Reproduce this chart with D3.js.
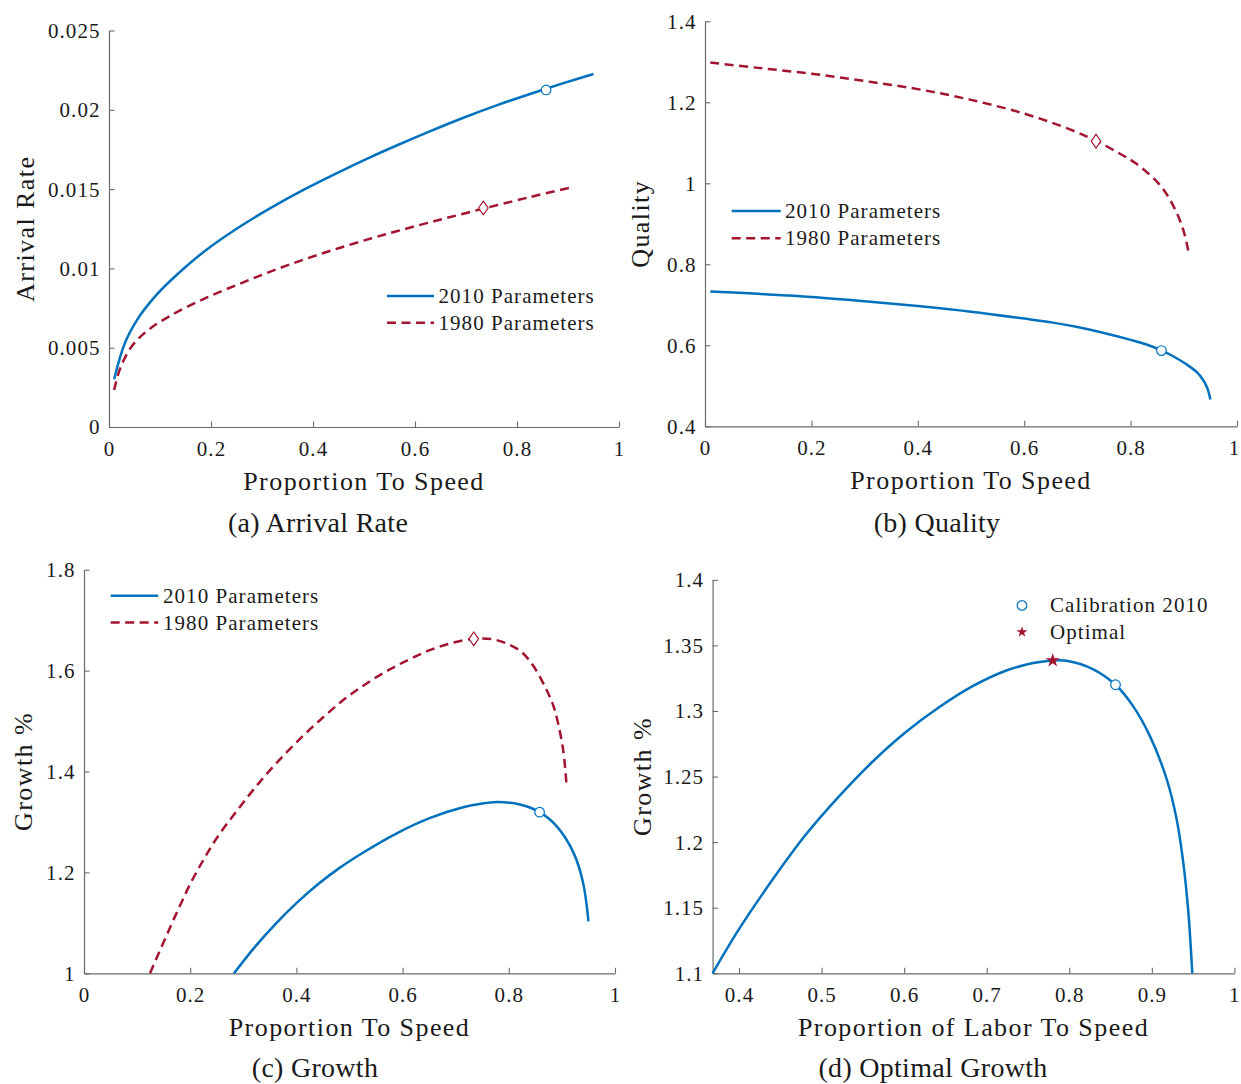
<!DOCTYPE html>
<html>
<head>
<meta charset="utf-8">
<script src="https://cdn.jsdelivr.net/npm/d3@7"></script>
<style>
  body { margin: 0; background: #ffffff; }
  svg text { font-family: "Liberation Serif", "Times New Roman", serif; fill: #1a1a1a; }
</style>
</head>
<body>
<svg id="chart" width="1241" height="1084"></svg>
<script>
// ---------------- DATA ----------------
const seriesNames = ["2010 Parameters", "1980 Parameters"];
const markerNames = ["Calibration 2010", "Optimal"];

// (a) Arrival Rate vs proportion to speed
const arrival2010 = [[0.01,0.00301],[0.031,0.00528],[0.057,0.00685],[0.09,0.00822],[0.123,0.0093],
  [0.188,0.0111],[0.254,0.01258],[0.319,0.01385],[0.384,0.015],[0.45,0.01606],[0.515,0.01705],
  [0.564,0.01775],[0.629,0.01864],[0.695,0.0195],[0.76,0.02028],[0.8255,0.021],[0.891,0.02168],[0.95,0.02226]];
const arrival1980 = [[0.01,0.00233],[0.022,0.0037],[0.044,0.00506],[0.077,0.00612],[0.123,0.00706],
  [0.188,0.00811],[0.254,0.009],[0.319,0.00983],[0.384,0.01058],[0.45,0.01127],[0.515,0.0119],
  [0.564,0.01234],[0.625,0.01287],[0.695,0.01345],[0.8255,0.0145],[0.905,0.01509]];
const arrivalCalib2010 = [0.857, 0.02125];
const arrivalCalib1980 = [0.734, 0.01381];

// (b) Quality
const quality2010 = [[0.01,0.733],[0.1,0.727],[0.2,0.7195],[0.3,0.709],[0.4,0.697],[0.5,0.683],
  [0.6,0.666],[0.654,0.656],[0.7,0.645],[0.748,0.631],[0.8,0.6135],[0.83,0.602],[0.857,0.588],
  [0.88,0.573],[0.905,0.553],[0.925,0.533],[0.936,0.515],[0.944,0.495],[0.95,0.466]];
const quality1980 = [[0.01,1.298],[0.1,1.285],[0.2,1.2705],[0.3,1.2525],[0.4,1.2325],[0.5,1.206],
  [0.6,1.172],[0.686,1.133],[0.736,1.104],[0.78,1.073],[0.811,1.048],[0.855,0.996],[0.88,0.945],
  [0.899,0.885],[0.91,0.823]];
const qualityCalib2010 = [0.858, 0.587];
const qualityCalib1980 = [0.735, 1.104];

// (c) Growth
const growth2010 = [[0.2825,1.0],[0.32,1.05],[0.36,1.097],[0.40,1.139],[0.44,1.176],[0.48,1.208],
  [0.526,1.2395],[0.589,1.2775],[0.652,1.308],[0.714,1.329],[0.745,1.3355],[0.777,1.3395],[0.821,1.3345],
  [0.858,1.3194],[0.89,1.2917],[0.922,1.2387],[0.94,1.179],[0.95,1.103]];
const growth1980 = [[0.1243,1.0],[0.15,1.062],[0.175,1.121],[0.2,1.177],[0.225,1.225],[0.25,1.268],
  [0.29,1.325],[0.33,1.378],[0.369,1.424],[0.41,1.468],[0.45,1.507],[0.49,1.543],[0.53,1.573],
  [0.57,1.599],[0.61,1.621],[0.65,1.64],[0.69,1.654],[0.734,1.663],[0.77,1.662],[0.8,1.652],
  [0.825,1.636],[0.847,1.608],[0.871,1.562],[0.884,1.53],[0.894,1.49],[0.903,1.438],[0.909,1.37]];
const growthCalib2010 = [0.858, 1.3194];
const growthCalib1980 = [0.734, 1.663];

// (d) Optimal growth
const optimalGrowth = [[0.368,1.1],[0.3992,1.1329],[0.4396,1.1705],[0.48,1.205],[0.52,1.2341],
  [0.5607,1.2607],[0.601,1.2834],[0.6414,1.3024],[0.6818,1.3185],[0.7222,1.3305],[0.7564,1.3365],
  [0.78,1.3385],[0.7968,1.3383],[0.829,1.3318],[0.856,1.32],[0.8775,1.3035],[0.8977,1.2808],
  [0.918,1.248],[0.930,1.2176],[0.938,1.1848],[0.9442,1.1468],[0.949,1.1]];
const optimalCalib2010 = [0.856, 1.32];
const optimalPoint = [0.78, 1.3385];

// Tick values and labels
const xTicks01 = [0, 0.2, 0.4, 0.6, 0.8, 1];
const xLabels01 = ["0", "0.2", "0.4", "0.6", "0.8", "1"];
const yTicksA = [0, 0.005, 0.01, 0.015, 0.02, 0.025];
const yLabelsA = ["0", "0.005", "0.01", "0.015", "0.02", "0.025"];
const yTicksB = [0.4, 0.6, 0.8, 1.0, 1.2, 1.4];
const yLabelsB = ["0.4", "0.6", "0.8", "1", "1.2", "1.4"];
const yTicksC = [1.0, 1.2, 1.4, 1.6, 1.8];
const yLabelsC = ["1", "1.2", "1.4", "1.6", "1.8"];
const xTicksD = [0.4, 0.5, 0.6, 0.7, 0.8, 0.9, 1];
const xLabelsD = ["0.4", "0.5", "0.6", "0.7", "0.8", "0.9", "1"];
const yTicksD = [1.1, 1.15, 1.2, 1.25, 1.3, 1.35, 1.4];
const yLabelsD = ["1.1", "1.15", "1.2", "1.25", "1.3", "1.35", "1.4"];

// ---------------- DRAWING ----------------
const BLUE = "#0072BD", RED = "#A2142F", AXIS = "#6a6a6a";
const svg = d3.select("#chart");

function diamondPath(cx, cy, hw, hh) {
  const p = d3.path();
  p.moveTo(cx, cy - hh); p.lineTo(cx + hw, cy); p.lineTo(cx, cy + hh); p.lineTo(cx - hw, cy); p.closePath();
  return p.toString();
}

function panel(cfg) {
  const g = svg.append("g");
  const x = d3.scaleLinear().domain(cfg.xDomain).range(cfg.xRange);
  const y = d3.scaleLinear().domain(cfg.yDomain).range(cfg.yRange);
  const y0 = cfg.yRange[0], x0 = cfg.xRange[0];

  const xAxis = d3.axisBottom(x).tickValues(cfg.xTicks).tickFormat((d, i) => cfg.xLabels[i])
    .tickSizeInner(-5.5).tickSizeOuter(0).tickPadding(0);
  const gx = g.append("g").attr("transform", `translate(0,${y0})`).call(xAxis);
  const yAxis = d3.axisLeft(y).tickValues(cfg.yTicks).tickFormat((d, i) => cfg.yLabels[i])
    .tickSizeInner(-5.5).tickSizeOuter(0).tickPadding(8.5);
  const gy = g.append("g").attr("transform", `translate(${x0},0)`).call(yAxis);

  [gx, gy].forEach(a => {
    a.attr("font-size", null).attr("font-family", null);
    a.selectAll("path.domain").attr("stroke", AXIS).attr("stroke-width", 1.2);
    a.selectAll(".tick line").attr("stroke", AXIS).attr("stroke-width", 1.1);
    a.selectAll(".tick text").style("font-size", "21px").style("letter-spacing", "0.05em").attr("fill", "#1a1a1a");
  });
  gx.selectAll(".tick text").attr("y", 29).attr("dy", null);
  gy.selectAll(".tick text").attr("dy", "0.33em");
  if (cfg.lastXNudge) {
    gx.selectAll(".tick:last-of-type text").attr("dx", cfg.lastXNudge);
  }

  // axis titles
  g.append("text").attr("x", (cfg.xRange[0] + cfg.xRange[1]) / 2).attr("y", y0 + 62.5)
    .attr("text-anchor", "middle").style("font-size", "26px").style("letter-spacing", "0.055em")
    .text(cfg.xTitle);
  g.append("text").attr("transform", `translate(${cfg.yTitleX},${(cfg.yRange[0] + cfg.yRange[1]) / 2}) rotate(-90)`)
    .attr("text-anchor", "middle").style("font-size", "26px").style("letter-spacing", "0.055em")
    .text(cfg.yTitle);
  // caption
  g.append("text").attr("x", cfg.caption[0]).attr("y", cfg.caption[1]).attr("text-anchor", "middle")
    .style("font-size", "28px").style("letter-spacing", "0.01em").text(cfg.caption[2]);

  const line = d3.line().x(d => x(d[0])).y(d => y(d[1])).curve(d3.curveCatmullRom.alpha(0.5));
  if (cfg.red) {
    g.append("path").datum(cfg.red).attr("d", line).attr("fill", "none").attr("stroke", RED)
      .attr("stroke-width", 2.5).attr("stroke-dasharray", "9,5.5");
  }
  g.append("path").datum(cfg.blue).attr("d", line).attr("fill", "none").attr("stroke", BLUE)
    .attr("stroke-width", 2.5);

  if (cfg.redMark) {
    g.append("path").attr("d", diamondPath(x(cfg.redMark[0]), y(cfg.redMark[1]), 4.8, 6.8))
      .attr("fill", "#fff").attr("stroke", RED).attr("stroke-width", 1.2);
  }
  if (cfg.star) {
    g.append("path").attr("d", d3.symbol(d3.symbolStar, 64)())
      .attr("transform", `translate(${x(cfg.star[0])},${y(cfg.star[1])})`).attr("fill", RED);
  }
  g.append("circle").attr("cx", x(cfg.blueMark[0])).attr("cy", y(cfg.blueMark[1])).attr("r", 4.8)
    .attr("fill", "#fff").attr("stroke", BLUE).attr("stroke-width", 1.2);

  // legend
  const L = cfg.legend;
  if (L.type === "lines") {
    [[BLUE, null, L.y1, seriesNames[0]], [RED, "9,5.5", L.y2, seriesNames[1]]].forEach(([c, dash, ly, name]) => {
      g.append("line").attr("x1", L.x1).attr("x2", L.x2).attr("y1", ly).attr("y2", ly)
        .attr("stroke", c).attr("stroke-width", 2.5).attr("stroke-dasharray", dash);
      g.append("text").attr("x", L.tx).attr("y", ly + 7).style("font-size", "21px")
        .style("letter-spacing", "0.05em").text(name);
    });
  } else {
    g.append("circle").attr("cx", L.mx).attr("cy", L.y1).attr("r", 4.8).attr("fill", "#fff")
      .attr("stroke", BLUE).attr("stroke-width", 1.2);
    g.append("path").attr("d", d3.symbol(d3.symbolStar, 38)())
      .attr("transform", `translate(${L.mx},${L.y2})`).attr("fill", RED);
    g.append("text").attr("x", L.tx).attr("y", L.y1 + 7).style("font-size", "21px")
      .style("letter-spacing", "0.05em").text(markerNames[0]);
    g.append("text").attr("x", L.tx).attr("y", L.y2 + 7).style("font-size", "21px")
      .style("letter-spacing", "0.05em").text(markerNames[1]);
  }
}

panel({
  xDomain: [0, 1], xRange: [109, 619], yDomain: [0, 0.025], yRange: [427, 30.5],
  xTicks: xTicks01, xLabels: xLabels01, yTicks: yTicksA, yLabels: yLabelsA,
  xTitle: "Proportion To Speed", yTitle: "Arrival Rate", yTitleX: 33.5,
  caption: [318, 532, "(a) Arrival Rate"],
  blue: arrival2010, red: arrival1980, blueMark: arrivalCalib2010, redMark: arrivalCalib1980,
  legend: { type: "lines", x1: 387, x2: 434, tx: 438.5, y1: 296, y2: 322.7 }
});
panel({
  xDomain: [0, 1], xRange: [705, 1237], yDomain: [0.4, 1.4], yRange: [426.3, 21.3],
  xTicks: xTicks01, xLabels: xLabels01, yTicks: yTicksB, yLabels: yLabelsB,
  xTitle: "Proportion To Speed", yTitle: "Quality", yTitleX: 649,
  caption: [937, 532, "(b) Quality"], lastXNudge: -3,
  blue: quality2010, red: quality1980, blueMark: qualityCalib2010, redMark: qualityCalib1980,
  legend: { type: "lines", x1: 731.7, x2: 780.7, tx: 785, y1: 211, y2: 238.3 }
});
panel({
  xDomain: [0, 1], xRange: [84, 615], yDomain: [1.0, 1.8], yRange: [973.3, 569.7],
  xTicks: xTicks01, xLabels: xLabels01, yTicks: yTicksC, yLabels: yLabelsC,
  xTitle: "Proportion To Speed", yTitle: "Growth %", yTitleX: 31.6,
  caption: [315, 1077, "(c) Growth"],
  blue: growth2010, red: growth1980, blueMark: growthCalib2010, redMark: growthCalib1980,
  legend: { type: "lines", x1: 110.7, x2: 158.2, tx: 163, y1: 595.8, y2: 622.6 }
});
panel({
  xDomain: [0.368, 1], xRange: [712.6, 1234.4], yDomain: [1.1, 1.4], yRange: [973.3, 579.8],
  xTicks: xTicksD, xLabels: xLabelsD, yTicks: yTicksD, yLabels: yLabelsD,
  xTitle: "Proportion of Labor To Speed", yTitle: "Growth %", yTitleX: 650.8,
  caption: [933, 1077, "(d) Optimal Growth"],
  blue: optimalGrowth, blueMark: optimalCalib2010, star: optimalPoint,
  legend: { type: "markers", mx: 1022, tx: 1050, y1: 605.4, y2: 632 }
});
</script>
</body>
</html>
